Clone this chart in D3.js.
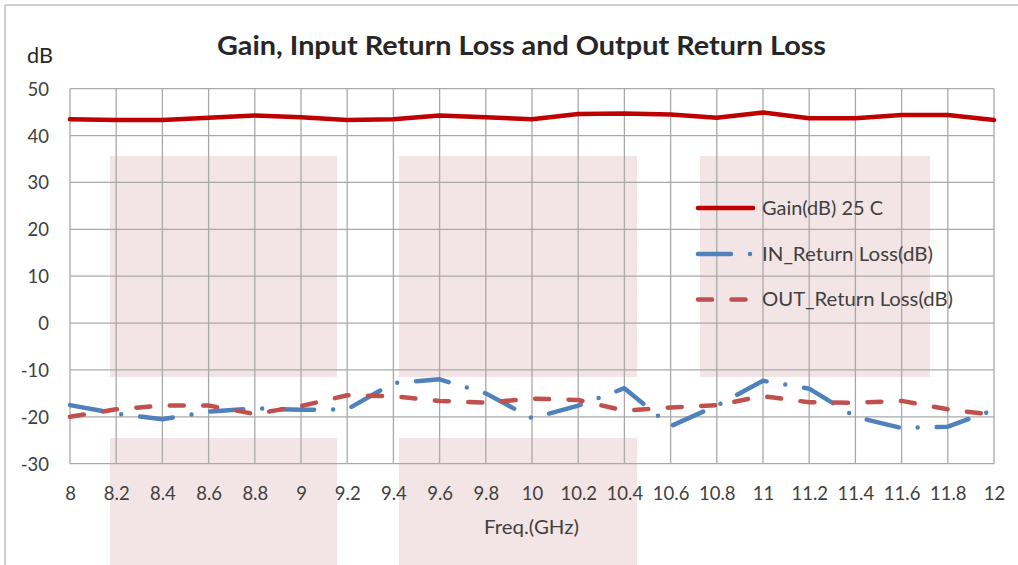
<!DOCTYPE html>
<html>
<head>
<meta charset="utf-8">
<script src="https://cdn.jsdelivr.net/npm/d3@7/dist/d3.min.js"></script>
<style>
  html, body { margin: 0; padding: 0; background: #ffffff; }
  svg { display: block; }
  text { font-family: Lato, "Noto Sans", sans-serif; }
</style>
</head>
<body>
<svg id="chart" width="1018" height="565"></svg>
<script>
// ---------- DATA ----------
const freq = [8.0, 8.2, 8.4, 8.6, 8.8, 9.0, 9.2, 9.4, 9.6, 9.8, 10.0, 10.2, 10.4, 10.6, 10.8, 11.0, 11.2, 11.4, 11.6, 11.8, 12.0];
const gain = [43.5, 43.3, 43.3, 43.8, 44.3, 43.9, 43.3, 43.5, 44.3, 43.9, 43.5, 44.6, 44.7, 44.5, 43.8, 44.9, 43.7, 43.7, 44.4, 44.4, 43.3];
const inReturnLoss = [-17.5, -19.3, -20.5, -18.9, -18.2, -18.5, -18.4, -12.8, -12.0, -15.0, -20.3, -17.6, -13.9, -22.0, -17.6, -12.3, -14.0, -20.0, -22.4, -22.1, -18.5];
const outReturnLoss = [-20.0, -18.4, -17.6, -17.6, -19.4, -17.7, -15.4, -15.6, -16.6, -17.0, -16.1, -16.4, -18.7, -18.0, -17.5, -15.6, -16.9, -17.0, -16.6, -18.4, -19.6];
const seriesNames = ["Gain(dB) 25 C", "IN_Return Loss(dB)", "OUT_Return Loss(dB)"];
const xTickValues = [8, 8.2, 8.4, 8.6, 8.8, 9, 9.2, 9.4, 9.6, 9.8, 10, 10.2, 10.4, 10.6, 10.8, 11, 11.2, 11.4, 11.6, 11.8, 12];
const xTickLabels = ["8", "8.2", "8.4", "8.6", "8.8", "9", "9.2", "9.4", "9.6", "9.8", "10", "10.2", "10.4", "10.6", "10.8", "11", "11.2", "11.4", "11.6", "11.8", "12"];
const yTickValues = [-30, -20, -10, 0, 10, 20, 30, 40, 50];
const yTickLabels = ["-30", "-20", "-10", "0", "10", "20", "30", "40", "50"];
const titleText = "Gain, Input Return Loss and Output Return Loss";
const yUnitText = "dB";
const xAxisTitle = "Freq.(GHz)";

// ---------- LAYOUT ----------
const svg = d3.select("#chart");
const x = d3.scaleLinear().domain([8, 12]).range([70, 994]);
const y = d3.scaleLinear().domain([-30, 50]).range([463.7, 88.7]);
const gridColor = "#a9a9a9";
const textColor = "#404040";

// chart frame (top and left border of the cropped chart object)
svg.append("line").attr("x1", 5).attr("x2", 1018).attr("y1", 5).attr("y2", 5)
  .attr("stroke", "#c0c0c0").attr("stroke-width", 1.5);
svg.append("line").attr("x1", 5).attr("x2", 5).attr("y1", 5).attr("y2", 565)
  .attr("stroke", "#c0c0c0").attr("stroke-width", 1.5);

// decorative watermark blocks
const wm = svg.append("g").attr("fill", "#f3e5e6");
[[110, 156, 227, 221], [399, 156, 238, 221], [700, 156, 230, 221],
 [110, 438, 227, 127], [399, 438, 238, 127]].forEach(r => {
  wm.append("rect").attr("x", r[0]).attr("y", r[1]).attr("width", r[2]).attr("height", r[3]);
});

// gridlines
const grid = svg.append("g").attr("stroke", gridColor).attr("stroke-width", 1.3);
xTickValues.forEach(v => {
  grid.append("line").attr("x1", x(v)).attr("x2", x(v)).attr("y1", y(50)).attr("y2", y(-30));
});
yTickValues.forEach(v => {
  grid.append("line").attr("x1", x(8)).attr("x2", x(12)).attr("y1", y(v)).attr("y2", y(v));
});

// axes labels
const xAxis = d3.axisBottom(x).tickValues(xTickValues)
  .tickFormat((d, i) => xTickLabels[i]).tickSize(0).tickPadding(0);
const gx = svg.append("g").attr("transform", `translate(0,${y(-30)})`).call(xAxis);
gx.select(".domain").remove();
gx.selectAll("text").attr("y", 0).attr("dy", 36.5)
  .attr("font-size", 18.5).attr("font-family", "Lato, sans-serif").attr("fill", textColor);

const yAxis = d3.axisLeft(y).tickValues(yTickValues)
  .tickFormat((d, i) => yTickLabels[i]).tickSize(0).tickPadding(0);
const gy = svg.append("g").attr("transform", `translate(49,0)`).call(yAxis);
gy.select(".domain").remove();
gy.selectAll("text").attr("x", 0).attr("dy", "0.35em")
  .attr("font-size", 18.5).attr("font-family", "Lato, sans-serif").attr("fill", textColor);

// titles
svg.append("text").attr("x", 217).attr("y", 55)
  .attr("font-size", 27).attr("font-weight", "bold").attr("fill", "#262626")
  .attr("textLength", 609).attr("lengthAdjust", "spacingAndGlyphs").text(titleText);
svg.append("text").attr("x", 27).attr("y", 62.5)
  .attr("font-size", 21).attr("fill", "#262626")
  .attr("textLength", 26).attr("lengthAdjust", "spacingAndGlyphs").text(yUnitText);
svg.append("text").attr("x", 484).attr("y", 534)
  .attr("font-size", 19.5).attr("fill", textColor)
  .attr("textLength", 95).attr("lengthAdjust", "spacingAndGlyphs").text(xAxisTitle);

// series
const styles = [
  { values: gain, color: "#c00000", dash: null, width: 4.5 },
  { values: inReturnLoss, color: "#4f81bd", dash: "33 19 0 19", width: 4.5 },
  { values: outReturnLoss, color: "#c0504d", dash: "14 19.5", width: 4.5 }
];
const line = d3.line().x(d => x(d[0])).y(d => y(d[1]));
styles.forEach(s => {
  svg.append("path")
    .datum(freq.map((f, i) => [f, s.values[i]]))
    .attr("d", line)
    .attr("fill", "none")
    .attr("stroke", s.color)
    .attr("stroke-width", s.width)
    .attr("stroke-linecap", "round")
    .attr("stroke-linejoin", "round")
    .attr("stroke-dasharray", s.dash);
});

// legend
const legendY = [208, 254, 299.5];
const legendEnds = [753, 753, 746];
const legendTextLen = [121, 171, 191];
styles.forEach((s, i) => {
  svg.append("line").attr("x1", 698).attr("x2", legendEnds[i])
    .attr("y1", legendY[i]).attr("y2", legendY[i])
    .attr("stroke", s.color).attr("stroke-width", s.width)
    .attr("stroke-linecap", "round").attr("stroke-dasharray", s.dash);
  svg.append("text").attr("x", 762).attr("y", legendY[i]).attr("dy", "0.35em")
    .attr("font-size", 19.5).attr("fill", textColor)
    .attr("textLength", legendTextLen[i]).attr("lengthAdjust", "spacingAndGlyphs")
    .text(seriesNames[i]);
});
</script>
</body>
</html>
